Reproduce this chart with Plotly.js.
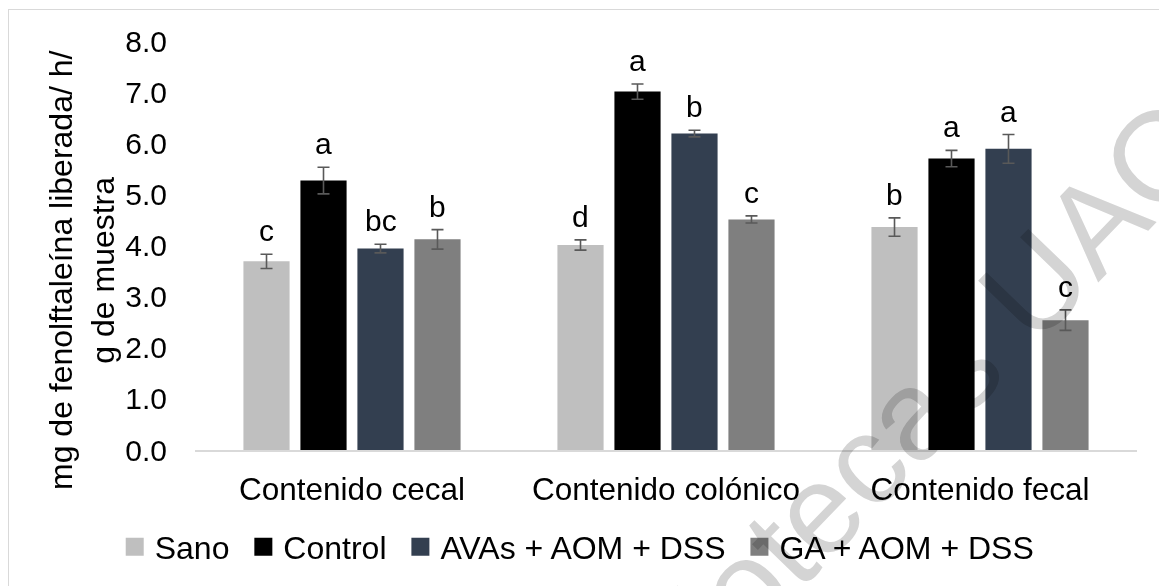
<!DOCTYPE html>
<html>
<head>
<meta charset="utf-8">
<script src="https://cdn.plot.ly/plotly-3.0.1.min.js"></script>
<style>
  html, body { margin: 0; padding: 0; background: #fff; }
  #wrap { position: relative; width: 1159px; height: 586px; overflow: hidden; background: #fff; }
  #chart { width: 1159px; height: 586px; }
  #frame { position: absolute; left: 8px; top: 9px; width: 1170px; height: 600px;
           border: 1.5px solid #d9d9d9; pointer-events: none; }
  #watermark { position: absolute; left: 873px; top: 453px; white-space: nowrap;
               font-family: "Liberation Sans", Arial, sans-serif; font-size: 127px; line-height: 1;
               color: #d4d4d4; transform: translate(-50%, -50%) rotate(-46deg);
               mix-blend-mode: multiply; pointer-events: none; }
</style>
</head>
<body>
<div id="wrap">
  <div id="chart"></div>
  <div id="watermark">Bibliotecas UAQ</div>
  <div id="frame"></div>
</div>
<script>
// ---- data ----
const categories = ["Contenido cecal", "Contenido colónico", "Contenido fecal"];
const seriesNames = ["Sano", "Control", "AVAs + AOM + DSS", "GA + AOM + DSS"];
const sano    = [3.69, 4.01, 4.36];
const control = [5.27, 7.01, 5.70];
const avas    = [3.94, 6.19, 5.89];
const ga      = [4.12, 4.51, 2.54];
const sanoErr    = [0.14, 0.10, 0.18];
const controlErr = [0.26, 0.15, 0.16];
const avasErr    = [0.085, 0.065, 0.28];
const gaErr      = [0.19, 0.07, 0.20];
const sanoLetters    = ["c", "d", "b"];
const controlLetters = ["a", "a", "a"];
const avasLetters    = ["bc", "b", "a"];
const gaLetters      = ["b", "c", "c"];
const yTickVals = [0, 1, 2, 3, 4, 5, 6, 7, 8];
const yTickText = ["0.0", "1.0", "2.0", "3.0", "4.0", "5.0", "6.0", "7.0", "8.0"];

// ---- style ----
const colors = ["#bfbfbf", "#000000", "#333f50", "#7f7f7f"];
const FONT = "Liberation Sans, Arial, Helvetica, sans-serif";
const bargap = 0.274;
const bargroupgap = 0.19;

const values = [sano, control, avas, ga];
const errs = [sanoErr, controlErr, avasErr, gaErr];
const letters = [sanoLetters, controlLetters, avasLetters, gaLetters];

const traces = values.map((v, i) => ({
  type: "bar",
  name: seriesNames[i] + "\u00a0",
  x: categories,
  y: v,
  marker: { color: colors[i], line: { width: 0 } },
  error_y: { type: "data", array: errs[i], visible: true, color: "#595959", thickness: 1.6, width: 6 },
  hoverinfo: "skip"
}));

const annotations = [];
const slot = (1 - bargap) / seriesNames.length;
values.forEach((v, i) => {
  v.forEach((val, j) => {
    annotations.push({
      x: j + (i - (seriesNames.length - 1) / 2) * slot,
      y: val + errs[i][j],
      xref: "x", yref: "y",
      text: letters[i][j],
      showarrow: false,
      xanchor: "center", yanchor: "bottom",
      yshift: 5,
      font: { family: FONT, size: 30, color: "#000" }
    });
  });
});
// y axis title (two lines)
annotations.push({
  xref: "paper", yref: "paper",
  x: -0.12, y: 0.44,
  xanchor: "center", yanchor: "middle",
  textangle: -90,
  text: "mg de fenolftaleína liberada/ h/<br>g de muestra",
  showarrow: false,
  font: { family: FONT, size: 32, color: "#000" }
});

const layout = {
  width: 1159, height: 586,
  margin: { l: 195, r: 22, t: 41, b: 134 },
  paper_bgcolor: "rgba(0,0,0,0)", plot_bgcolor: "rgba(0,0,0,0)",
  barmode: "group",
  bargap: bargap,
  bargroupgap: bargroupgap,
  font: { family: FONT, size: 30, color: "#000" },
  showlegend: true,
  legend: {
    orientation: "h",
    x: 0.41, xanchor: "center",
    y: -0.17, yanchor: "top",
    font: { family: FONT, size: 32, color: "#000" },
    itemclick: false, itemdoubleclick: false,
    tracegroupgap: 0
  },
  xaxis: {
    type: "category",
    showgrid: false, zeroline: false,
    showline: true, linecolor: "#d9d9d9", linewidth: 2,
    ticks: "",
    ticklabelstandoff: 10,
    tickfont: { family: FONT, size: 31.5, color: "#000" },
    fixedrange: true
  },
  yaxis: {
    range: [0, 8],
    tickvals: yTickVals, ticktext: yTickText,
    showgrid: false, zeroline: false, showline: false,
    ticks: "",
    ticklabelstandoff: 27,
    tickfont: { family: FONT, size: 30, color: "#000" },
    fixedrange: true
  },
  annotations: annotations
};

function bigLegendSymbols() {
  document.querySelectorAll("#chart .legend .legendpoints path").forEach(p => {
    p.setAttribute("d", "M9,9H-9V-9H9Z");
    p.style.strokeWidth = "0px";
  });
}
const gd = document.getElementById("chart");
Plotly.newPlot(gd, traces, layout, { displayModeBar: false, staticPlot: true }).then(() => {
  bigLegendSymbols();
  setTimeout(bigLegendSymbols, 0);
  setTimeout(bigLegendSymbols, 50);
});
gd.on && gd.on("plotly_afterplot", bigLegendSymbols);
</script>
</body>
</html>
